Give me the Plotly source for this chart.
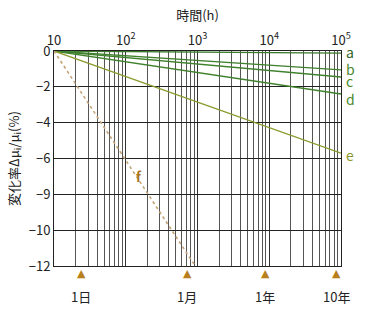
import math
import plotly.graph_objects as go

# Data
hours = [10, 100000]
series_names = ["a", "b", "c", "d", "e"]
series_end = [-0.12, -1.05, -1.45, -2.4, -5.7]
series_colors = ["#3a7a2a", "#3f812c", "#3f812c", "#3f812c", "#8c9a2c"]
label_colors = ["#2f5f22", "#4a8a2f", "#4a8a2f", "#4a8a2f", "#8c9a2c"]
label_yshift = [1, 1, -4, -5, -2]

f_hours = [10, 930]
f_values = [0, -12]

marker_hours = [24, 720, 8760, 87600]
marker_labels = ["1日", "1月", "1年", "10年"]

y_tickvals = [0, -2, -4, -6, -8, -10, -12]
y_ticktext = ["0", "−2", "−4", "−6", "−9", "−10", "−12"]
x_tickvals = [10, 100, 1000, 10000, 100000]
x_ticktext = ["10", "10<sup>2</sup>", "10<sup>3</sup>", "10<sup>4</sup>", "10<sup>5</sup>"]

FONT = "Noto Sans CJK JP, Noto Sans, sans-serif"

minor_vals = [m * 10 ** k for k in range(1, 5) for m in range(2, 10)]

fig = go.Figure()

for name, end, col in zip(series_names, series_end, series_colors):
    fig.add_trace(go.Scatter(x=hours, y=[0, end], mode="lines",
                             line=dict(color=col, width=1.3), showlegend=False,
                             hoverinfo="skip"))

fig.add_trace(go.Scatter(x=f_hours, y=f_values, mode="lines",
                         line=dict(color="#c4a478", width=1.6, dash="dot"),
                         showlegend=False, hoverinfo="skip"))

for h, lab in zip(marker_hours, marker_labels):
    fig.add_annotation(x=math.log10(h), y=-0.037, yref="paper", text="▲",
                       showarrow=False, yanchor="middle",
                       font=dict(family="DejaVu Sans", size=11, color="#b8801a"))
    fig.add_annotation(x=math.log10(h), y=-0.14, yref="paper", text=lab,
                       showarrow=False, yanchor="middle",
                       font=dict(family=FONT, size=13, color="#222"))

for name, end, col, ys in zip(series_names, series_end, label_colors, label_yshift):
    fig.add_annotation(x=5, y=end, text=name, showarrow=False, xanchor="left",
                       xshift=3, yshift=ys,
                       font=dict(family=FONT, size=14, color=col))

fig.add_annotation(x=2.18, y=-7, text="<b>f</b>", showarrow=False,
                   font=dict(family=FONT, size=13, color="#a8741a"))

fig.update_layout(
    width=365, height=311,
    margin=dict(l=54, r=24, t=51, b=45),
    paper_bgcolor="white", plot_bgcolor="white",
    font=dict(family=FONT, size=12, color="#222"),
    xaxis=dict(type="log", range=[1, 5], side="top",
               tickvals=x_tickvals, ticktext=x_ticktext,
               showgrid=True, gridcolor="#333", gridwidth=1,
               minor=dict(tickvals=minor_vals, showgrid=True, gridcolor="#555",
                          gridwidth=1, ticks=""),
               showline=True, linecolor="#222", linewidth=1, mirror=True,
               ticks="", tickfont=dict(size=13),
               title=dict(text="時間(h)", font=dict(size=13), standoff=4)),
    yaxis=dict(range=[-12, 0], tickvals=y_tickvals, ticktext=y_ticktext,
               showgrid=True, gridcolor="#222", gridwidth=1, zeroline=False,
               showline=True, linecolor="#222", linewidth=1, mirror=True,
               ticks="", tickfont=dict(size=13),
               title=dict(text="変化率Δμ<sub>i</sub>/μ<sub>i</sub>(%)",
                          font=dict(size=13), standoff=6)),
)

fig.write_html("out.html")
